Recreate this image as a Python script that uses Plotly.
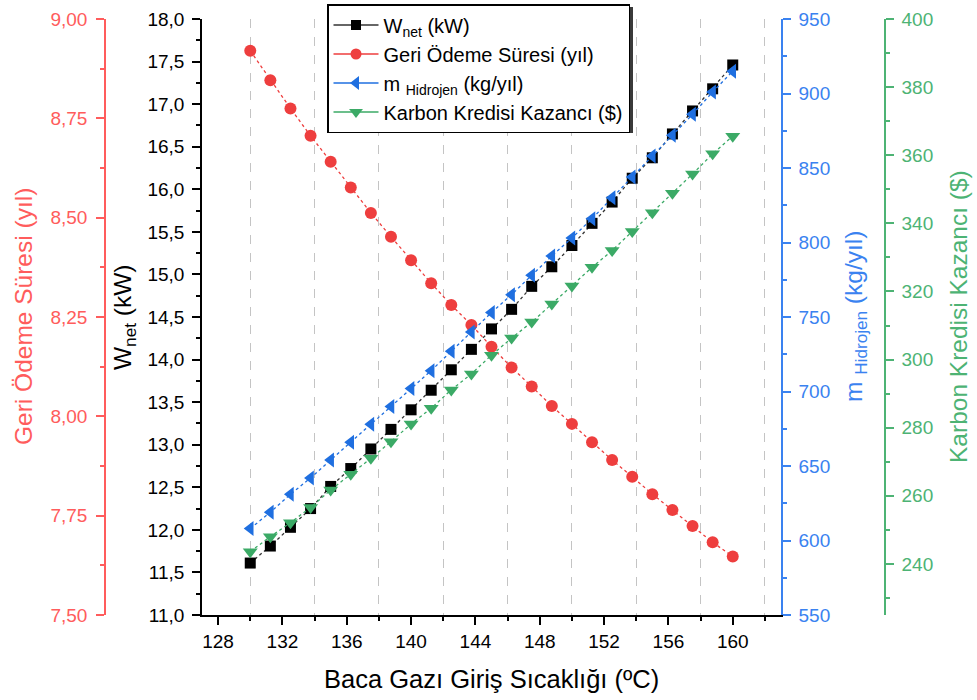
import plotly.graph_objects as go

# ---------------- data ----------------
temps = [130 + 1.25 * i for i in range(25)]
w_net = [11.61, 11.81, 12.03, 12.25, 12.51, 12.72, 12.95, 13.18, 13.41, 13.64, 13.88, 14.12, 14.36,
         14.59, 14.86, 15.09, 15.34, 15.60, 15.85, 16.13, 16.37, 16.65, 16.92, 17.18, 17.46]
geri_odeme = [8.920, 8.846, 8.775, 8.706, 8.641, 8.576, 8.512, 8.452, 8.393, 8.335, 8.280, 8.230, 8.175,
              8.123, 8.075, 8.026, 7.981, 7.935, 7.890, 7.848, 7.804, 7.764, 7.724, 7.683, 7.647]
m_hidrojen = [608, 619, 631, 642, 654, 666, 678, 690, 702, 714, 727, 740, 753,
              765, 778, 791, 803, 816, 830, 844, 858, 872, 886, 901, 915]
karbon = [243.6, 248.0, 252.1, 256.6, 261.7, 266.3, 271.0, 275.9, 281.1, 285.7, 291.1, 295.8, 301.3,
          306.3, 311.0, 316.3, 321.6, 327.1, 332.0, 337.6, 343.1, 348.8, 354.5, 360.4, 365.6]

names = ["W<sub>net</sub> (kW)", "Geri Ödeme Süresi (yıl)",
         "m <sub>Hidrojen</sub> (kg/yıl)", "Karbon Kredisi Kazancı ($)"]
x_title = "Baca Gazı Giriş Sıcaklığı (ºC)"

# ---------------- styling ----------------
FONT = "Arial, Liberation Sans, sans-serif"
W = 977
H = 700
PLOT_H = 596
TOP = 19
BLACK = "#000000"
RED = "#EE3E3E"
RED_AX = "#FF5C5C"
BLUE = "#1F6FE0"
BLUE_AX = "#3A82F0"
GREEN = "#3BAA66"
GREEN_AX = "#4DB374"

x_left_px, x_right_px = 202, 781
dom = [x_left_px / W, x_right_px / W]

series = [
    (w_net, names[0], "#333333", BLACK, "square", 11, "y"),
    (geri_odeme, names[1], RED, RED, "circle", 12, "y2"),
    (m_hidrojen, names[2], BLUE, BLUE, "triangle-left", 13, "y3"),
    (karbon, names[3], GREEN, GREEN, "triangle-down", 13, "y4"),
]

fig = go.Figure()
for vals, nm, lc, mc, sym, sz, ax in series:
    fig.add_trace(go.Scatter(x=temps, y=vals, name=nm, mode="lines+markers", showlegend=False,
                             line=dict(color=lc, width=1.3, dash="dot"),
                             marker=dict(symbol=sym, size=sz, color=mc), yaxis=ax))
# legend entries (solid line sample as in the original legend)
for vals, nm, lc, mc, sym, sz, ax in series:
    fig.add_trace(go.Scatter(x=[None], y=[None], name=nm, mode="lines+markers", showlegend=True,
                             line=dict(color=lc, width=1.5),
                             marker=dict(symbol=sym, size=sz - 1, color=mc), yaxis=ax))

TICK_SIZE = 19
tickfont = dict(family=FONT, size=TICK_SIZE)

fig.update_layout(
    width=W, height=H,
    margin=dict(l=0, r=0, t=TOP, b=85),
    paper_bgcolor="white", plot_bgcolor="white",
    separators=",.",
    font=dict(family=FONT, size=16, color=BLACK),
    showlegend=True,
    legend=dict(x=327 / W, y=1 + 15 / PLOT_H, xanchor="left", yanchor="top",
                bgcolor="white", bordercolor=BLACK, borderwidth=1.5, itemwidth=45,
                font=dict(family=FONT, size=20, color=BLACK)),
    xaxis=dict(domain=dom, range=[127, 163], showline=True, linecolor=BLACK, linewidth=1.5,
               ticks="outside", ticklen=8, tickwidth=1.5, tickcolor=BLACK,
               tick0=128, dtick=4, showgrid=False, zeroline=False,
               tickfont=tickfont, automargin=False,
               minor=dict(tick0=128, dtick=2, ticks="outside", ticklen=4, tickcolor=BLACK,
                          showgrid=True, gridcolor="#C4C4C4", griddash="dash", gridwidth=1)),
    yaxis=dict(range=[11, 18], showline=True, linecolor=BLACK, linewidth=1.5,
               ticks="outside", ticklen=8, tickwidth=1.5, tickcolor=BLACK,
               dtick=0.5, tick0=11, tickformat=".1f", showgrid=False, zeroline=False,
               tickfont=tickfont, automargin=False, ticklabelstandoff=4,
               minor=dict(dtick=0.25, ticks="outside", ticklen=4, tickcolor=BLACK)),
    yaxis2=dict(range=[7.5, 9.0], overlaying="y", side="left", anchor="free", position=105 / W,
                showline=True, linecolor=RED_AX, linewidth=1.5,
                ticks="outside", ticklen=8, tickwidth=1.5, tickcolor=RED_AX,
                dtick=0.25, tick0=7.5, tickformat=".2f", showgrid=False, zeroline=False,
                tickfont=dict(family=FONT, size=TICK_SIZE, color=RED_AX), automargin=False,
                ticklabelstandoff=5,
                minor=dict(dtick=0.125, ticks="outside", ticklen=4, tickcolor=RED_AX)),
    yaxis3=dict(range=[550, 950], overlaying="y", side="right", anchor="x",
                showline=True, linecolor=BLUE_AX, linewidth=1.5,
                ticks="outside", ticklen=8, tickwidth=1.5, tickcolor=BLUE_AX,
                dtick=50, tick0=550, showgrid=False, zeroline=False,
                tickfont=dict(family=FONT, size=TICK_SIZE, color=BLUE_AX), automargin=False,
                ticklabelstandoff=4,
                minor=dict(dtick=25, ticks="outside", ticklen=4, tickcolor=BLUE_AX)),
    yaxis4=dict(range=[225, 400], overlaying="y", side="right", anchor="free", position=885 / W,
                showline=True, linecolor=GREEN_AX, linewidth=1.5,
                ticks="outside", ticklen=8, tickwidth=1.5, tickcolor=GREEN_AX,
                dtick=20, tick0=0, showgrid=False, zeroline=False,
                tickfont=dict(family=FONT, size=TICK_SIZE, color=GREEN_AX), automargin=False,
                ticklabelstandoff=4,
                minor=dict(dtick=10, tick0=0, ticks="outside", ticklen=4, tickcolor=GREEN_AX)),
)

# legend drop shadow (drawn beneath the legend box)
def px_x(p):
    return p / W

def px_y(p):
    return 1 - (p - TOP) / PLOT_H

fig.add_shape(type="rect", xref="paper", yref="paper", layer="above",
              x0=px_x(331), x1=px_x(633), y0=px_y(133), y1=px_y(7),
              fillcolor="#3a3a3a", line=dict(width=0))

# axis titles as annotations
ann = [
    dict(text="Geri Ödeme Süresi (yıl)", x=23 / W, color=RED_AX),
    dict(text="W<sub>net</sub> (kW)", x=124 / W, color=BLACK),
    dict(text="m <sub>Hidrojen</sub> (kg/yıl)", x=855 / W, color=BLUE_AX),
    dict(text="Karbon Kredisi Kazancı ($)", x=958 / W, color=GREEN_AX),
]
for a in ann:
    fig.add_annotation(text=a["text"], x=a["x"], y=0.5, xref="paper", yref="paper",
                       xanchor="center", yanchor="middle", textangle=-90, showarrow=False,
                       font=dict(family=FONT, size=24.5, color=a["color"]))
fig.add_annotation(text=x_title, x=(x_left_px + x_right_px) / 2 / W, y=-64 / PLOT_H,
                   xref="paper", yref="paper", xanchor="center", yanchor="middle",
                   showarrow=False, font=dict(family=FONT, size=25.5, color=BLACK))

fig.write_html("out.html")
